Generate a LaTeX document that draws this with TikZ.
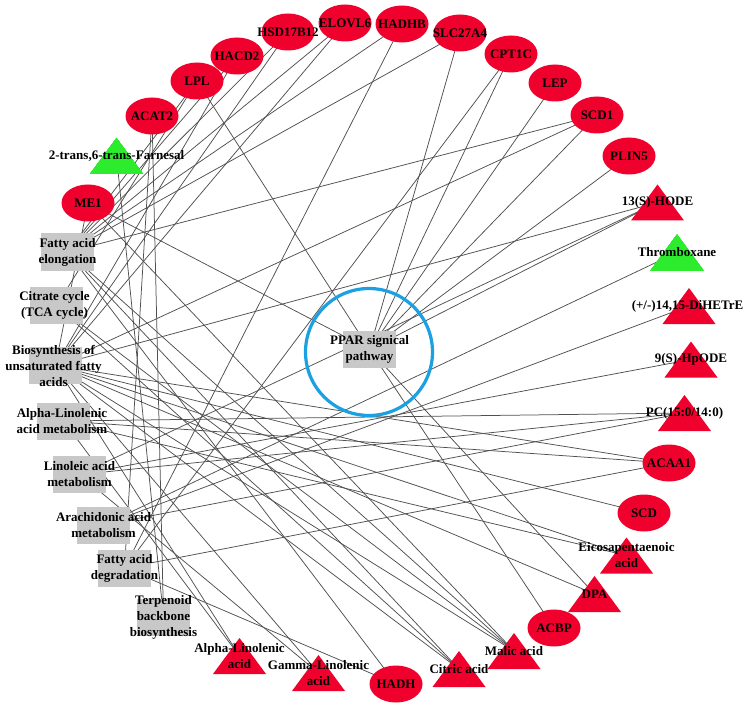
\documentclass[tikz,border=0pt]{standalone}
\usepackage{fontspec}
\setmainfont{Liberation Serif}
\usetikzlibrary{shapes.geometric}
\definecolor{nodered}{RGB}{240,0,45}
\definecolor{nodegreen}{RGB}{45,235,45}
\definecolor{rectgray}{RGB}{200,200,200}
\definecolor{ringblue}{RGB}{27,160,225}
\definecolor{edgegray}{RGB}{80,80,80}
\newcommand{\trinode}[2]{\fill[#2,shift={(#1)}] (-26.5,18) -- (0,-18) -- (26.5,18) -- cycle;}
\begin{document}
\begin{tikzpicture}[x=1pt,y=-1pt,
  edge/.style={draw=edgegray,line width=0.75pt},
  gene/.style={ellipse,fill=nodered,minimum width=53pt,minimum height=37pt,inner sep=0pt},
  path/.style={rectangle,fill=rectgray,minimum width=53pt,minimum height=37pt,inner sep=0pt},
  lbl/.style={inner sep=0pt,align=center,text=black,font=\fontsize{13}{16}\selectfont\bfseries}]
\fill[white] (0,0) rectangle (746,711);
\useasboundingbox (0,0) rectangle (746,711);
% genes (ellipses)
\coordinate (hsd) at (288,32);
\coordinate (elovl) at (345,23);
\coordinate (hadhb) at (402,24);
\coordinate (slc) at (460,33);
\coordinate (cpt) at (511,54);
\coordinate (lep) at (555,83);
\coordinate (scdone) at (597,115);
\coordinate (plin) at (629,156);
\coordinate (hacd) at (237,56);
\coordinate (lpl) at (197,81);
\coordinate (acat) at (152,116);
\coordinate (meone) at (88,203);
\coordinate (acaa) at (669,463);
\coordinate (scd) at (644,513);
\coordinate (acbp) at (554,628);
\coordinate (hadh) at (396,684);
% metabolites (triangles)
\coordinate (farn) at (116.5,156);
\coordinate (hode) at (657.5,202.5);
\coordinate (txb) at (677,252.5);
\coordinate (dihetre) at (689,306);
\coordinate (hpode) at (691,359.5);
\coordinate (pc) at (684.5,413);
\coordinate (epa) at (626.5,555.5);
\coordinate (dpa) at (594.5,594);
\coordinate (malic) at (514,651);
\coordinate (citric) at (459,669);
\coordinate (ala) at (239.5,656);
\coordinate (gla) at (318.5,673);
% pathways (rectangles)
\coordinate (fae) at (67.5,252);
\coordinate (tca) at (56.5,305.5);
\coordinate (bus) at (55.5,365.5);
\coordinate (alm) at (63.5,421);
\coordinate (lam) at (79.5,474.5);
\coordinate (aam) at (103.5,525);
\coordinate (fad) at (124.5,568);
\coordinate (tbb) at (163.5,617);
\coordinate (ppar) at (369.5,349.5);
% connectors
\foreach \a/\b in {ppar/slc,ppar/cpt,ppar/lep,ppar/scdone,ppar/plin,ppar/hode,ppar/lpl,ppar/meone,ppar/acbp,ppar/dpa,
  fae/elovl,fae/hsd,fae/hacd,fae/hadhb,fae/hadh,fae/lpl,fae/slc,fae/scdone,fae/malic,fae/citric,
  tca/malic,tca/citric,tca/lpl,
  bus/elovl,bus/hsd,bus/hacd,bus/scdone,bus/scd,bus/acaa,bus/ala,bus/gla,bus/epa,bus/dpa,bus/malic,bus/citric,bus/meone,bus/hode,
  alm/acaa,alm/pc,alm/epa,alm/ala,
  lam/pc,lam/hpode,lam/hode,lam/gla,
  aam/pc,aam/txb,aam/dihetre,
  fad/acat,fad/acaa,fad/hadh,fad/hadhb,fad/cpt,
  tbb/acat,tbb/farn,
  meone/malic}
  \draw[edge] (\a) -- (\b);
% ring round PPAR
\draw[ringblue,line width=3.2pt] (369,352) circle[radius=63.5];
% ellipse shapes
\foreach \n in {hsd,elovl,hadhb,slc,cpt,lep,scdone,plin,hacd,lpl,acat,meone,acaa,scd,acbp,hadh}
  \node[gene] at (\n) {};
% triangle shapes
\foreach \n in {hode,dihetre,hpode,pc,epa,dpa,malic,citric,ala,gla}
  \trinode{\n}{nodered}
\trinode{farn}{nodegreen}
\trinode{txb}{nodegreen}
% rectangle shapes
\foreach \n in {fae,tca,bus,alm,lam,aam,fad,tbb,ppar}
  \node[path] at (\n) {};
% labels
\node[lbl] at (hsd) {HSD17B12};
\node[lbl] at (elovl) {ELOVL6};
\node[lbl] at (hadhb) {HADHB};
\node[lbl] at (slc) {SLC27A4};
\node[lbl] at (cpt) {CPT1C};
\node[lbl] at (lep) {LEP};
\node[lbl] at (scdone) {SCD1};
\node[lbl] at (plin) {PLIN5};
\node[lbl] at (hacd) {HACD2};
\node[lbl] at (lpl) {LPL};
\node[lbl] at (acat) {ACAT2};
\node[lbl] at (meone) {ME1};
\node[lbl] at (acaa) {ACAA1};
\node[lbl] at (scd) {SCD};
\node[lbl] at (acbp) {ACBP};
\node[lbl] at (hadh) {HADH};
\node[lbl] at (farn) {2-trans,6-trans-Farnesal};
\node[lbl] at (hode) {13(S)-HODE};
\node[lbl] at (txb) {Thromboxane};
\node[lbl] at ([xshift=-1.5pt]dihetre) {(+/-)14,15-DiHETrE};
\node[lbl] at (hpode) {9(S)-HpODE};
\node[lbl] at (pc) {PC(15:0/14:0)};
\node[lbl] at (epa) {Eicosapentaenoic\\acid};
\node[lbl] at (dpa) {DPA};
\node[lbl] at (malic) {Malic acid};
\node[lbl] at (citric) {Citric acid};
\node[lbl] at (ala) {Alpha-Linolenic\\acid};
\node[lbl] at (gla) {Gamma-Linolenic\\acid};
\node[lbl] at (fae) {Fatty acid\\elongation};
\node[lbl] at ([xshift=-2pt]tca) {Citrate cycle\\(TCA cycle)};
\node[lbl] at ([xshift=-2pt]bus) {Biosynthesis of\\unsaturated fatty\\acids};
\node[lbl] at ([xshift=-1.5pt]alm) {Alpha-Linolenic\\acid metabolism};
\node[lbl] at (lam) {Linoleic acid\\metabolism};
\node[lbl] at (aam) {Arachidonic acid\\metabolism};
\node[lbl] at (fad) {Fatty acid\\degradation};
\node[lbl] at (tbb) {Terpenoid\\backbone\\biosynthesis};
\node[lbl] at (ppar) {PPAR signical\\pathway};
\end{tikzpicture}
\end{document}
